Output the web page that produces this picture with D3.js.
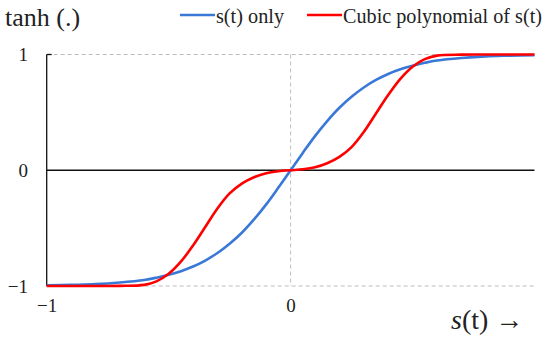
<!DOCTYPE html>
<meta charset="utf-8">
<head>
  <title>tanh of s(t)</title>
  <style>
    body { margin: 0; background: #fff; }
    svg text { font-family: "Liberation Serif", "DejaVu Serif", serif; fill: #222; }
  </style>
</head>
<body>
<script src="https://d3js.org/d3.v7.min.js"></script>
<div id="chart"></div>
<script>

// values
var sValues   = [-1, -0.9, -0.8, -0.7, -0.6, -0.55, -0.5, -0.45, -0.4, -0.35, -0.3, -0.25, -0.2, -0.15, -0.1, -0.05,
                 0, 0.05, 0.1, 0.15, 0.2, 0.25, 0.3, 0.35, 0.4, 0.45, 0.5, 0.55, 0.6, 0.7, 0.8, 0.9, 1];
var tanhOnly  = [-0.995, -0.99, -0.984, -0.97, -0.948, -0.928, -0.903, -0.872, -0.832, -0.78, -0.715, -0.635, -0.54, -0.425, -0.295, -0.15,
                 0, 0.15, 0.295, 0.425, 0.54, 0.635, 0.715, 0.78, 0.832, 0.872, 0.903, 0.928, 0.948, 0.97, 0.984, 0.99, 0.995];
var tanhCubic = [-1, -1, -1, -0.999, -0.99, -0.96, -0.895, -0.79, -0.65, -0.49, -0.33, -0.2, -0.115, -0.06, -0.025, -0.008,
                 0, 0.008, 0.025, 0.06, 0.115, 0.2, 0.33, 0.49, 0.65, 0.79, 0.895, 0.96, 0.99, 0.999, 1, 1, 1];

var yTicks = [-1, 0, 1];
var xTicks = [-1, 0];
var seriesNames = ["s(t) only", "Cubic polynomial of s(t)"];
var seriesColors = ["#3a78d8", "#ff0000"];

var width = 550, height = 338;

var svg = d3.select("#chart").append("svg")
    .attr("width", width)
    .attr("height", height);

var x = d3.scaleLinear().domain([-1, 1]).range([46.7, 534.5]);
var y = d3.scaleLinear().domain([-1, 1]).range([286, 54.5]);

// dashed guides
var grid = svg.append("g")
    .attr("stroke", "#bdbdbd")
    .attr("stroke-width", 1)
    .attr("stroke-dasharray", "4,3");
grid.append("line").attr("x1", x(-1)).attr("x2", x(1)).attr("y1", y(1)).attr("y2", y(1));
grid.append("line").attr("x1", x(-1)).attr("x2", x(1)).attr("y1", y(-1)).attr("y2", y(-1));
grid.append("line").attr("x1", x(0)).attr("x2", x(0)).attr("y1", y(1)).attr("y2", y(-1));

// black axis lines
svg.append("line")
    .attr("x1", x(-1)).attr("x2", x(-1)).attr("y1", y(1)).attr("y2", y(-1))
    .attr("stroke", "#111").attr("stroke-width", 1.3);
svg.append("line")
    .attr("x1", x(-1)).attr("x2", x(-1) + 5).attr("y1", y(1)).attr("y2", y(1))
    .attr("stroke", "#111").attr("stroke-width", 1.3);
svg.append("line")
    .attr("x1", x(-1)).attr("x2", x(1)).attr("y1", y(0)).attr("y2", y(0))
    .attr("stroke", "#111").attr("stroke-width", 1.3);

// tick labels
var yAxis = svg.append("g")
    .attr("transform", "translate(" + 28 + ",0)")
    .call(d3.axisLeft(y).tickValues(yTicks).tickSize(0).tickPadding(0).tickFormat(d3.format("d")));
yAxis.select(".domain").remove();
yAxis.selectAll("text")
    .attr("dy", "0.34em")
    .style("font-family", "'Liberation Serif', serif")
    .style("font-size", "19px")
    .style("fill", "#222");

var xAxis = svg.append("g")
    .attr("transform", "translate(0," + 298 + ")")
    .call(d3.axisBottom(x).tickValues(xTicks).tickSize(0).tickPadding(0).tickFormat(d3.format("d")));
xAxis.select(".domain").remove();
xAxis.selectAll("text")
    .attr("dy", "0.71em")
    .style("font-family", "'Liberation Serif', serif")
    .style("font-size", "19px")
    .style("fill", "#222");

// curves
var line = d3.line()
    .curve(d3.curveCatmullRom.alpha(0.5))
    .x(function(d) { return x(d[0]); })
    .y(function(d) { return y(d[1]); });

[tanhOnly, tanhCubic].forEach(function(vals, i) {
  svg.append("path")
      .datum(sValues.map(function(s, j) { return [s, vals[j]]; }))
      .attr("fill", "none")
      .attr("stroke", seriesColors[i])
      .attr("stroke-width", 2.6)
      .attr("stroke-linejoin", "round")
      .attr("d", line);
});

// titles
svg.append("text")
    .attr("x", 5).attr("y", 26)
    .style("font-size", "26px")
    .text("tanh (.)");

var xLabel = svg.append("text")
    .attr("x", 451).attr("y", 329)
    .style("font-size", "28px");
xLabel.append("tspan").style("font-style", "italic").text("s");
xLabel.append("tspan").text("(t) \u2192");

// legend
var legendX = [180, 307];
var legendW = [68, 199];
seriesNames.forEach(function(name, i) {
  svg.append("line")
      .attr("x1", legendX[i]).attr("x2", legendX[i] + 35)
      .attr("y1", 15).attr("y2", 15)
      .attr("stroke", seriesColors[i])
      .attr("stroke-width", 2.6);
  svg.append("text")
      .attr("x", legendX[i] + 36).attr("y", 23)
      .attr("textLength", legendW[i])
      .attr("lengthAdjust", "spacingAndGlyphs")
      .style("font-size", "20px")
      .text(name);
});

</script>
</body>
